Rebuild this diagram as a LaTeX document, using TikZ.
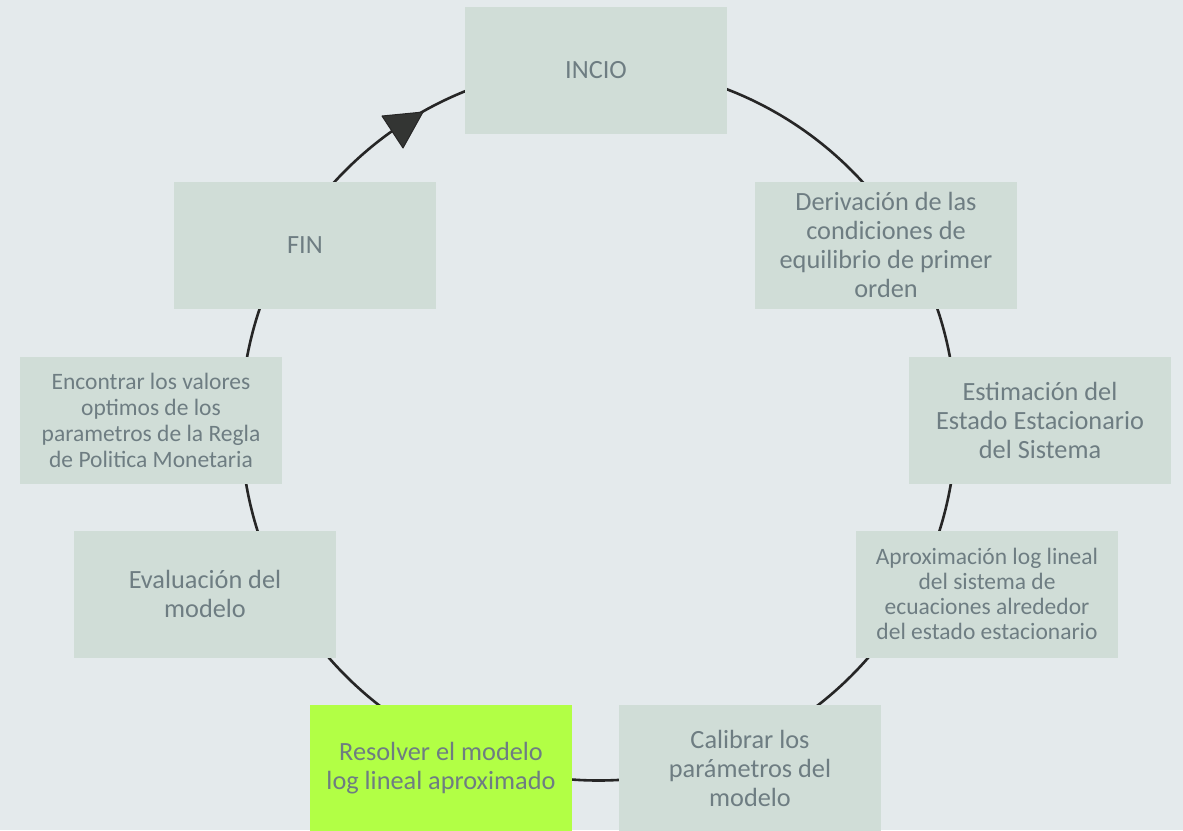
\documentclass[tikz,border=0pt]{standalone}
\usepackage{fontspec}
\setmainfont{Carlito}
\definecolor{bgc}{HTML}{E4EAEC}
\definecolor{boxc}{HTML}{D0DDD7}
\definecolor{hot}{HTML}{B2FF45}
\definecolor{txt}{HTML}{6E7D82}
\definecolor{ring}{HTML}{262626}
\definecolor{tip}{HTML}{333533}
\tikzset{
  stepbox/.style={rectangle, fill=boxc, minimum width=262pt, minimum height=127pt,
    inner sep=0pt, align=center, text=txt, font=\fontsize{26.3}{29}\selectfont},
  aproxtext/.style={font=\fontsize{23.5}{25}\selectfont},
  optimtext/.style={font=\fontsize{23.5}{26}\selectfont},
  ringline/.style={draw=ring, line width=2.6pt},
}
\begin{document}
\begin{tikzpicture}[x=1pt, y=-1pt]
  \fill[bgc] (0,0) rectangle (1183,830);
  \useasboundingbox (0,0) rectangle (1183,830);

  % cycle ring behind the steps
  \coordinate (centre) at (598.5,423);
  \draw[ringline] (centre) circle (357.5pt);

  % steps
  \node[stepbox] (inicio) at (596,70.5) {INCIO};
  \node[stepbox] (deriv) at (886,245) {Derivación de las\\condiciones de\\equilibrio de primer\\orden};
  \node[stepbox] (estim) at (1040,420) {Estimación del\\Estado Estacionario\\del Sistema};
  \node[stepbox, aproxtext] (aprox) at (987,594) {Aproximación log lineal\\del sistema de\\ecuaciones alrededor\\del estado estacionario};
  \node[stepbox] (calib) at (750,768) {Calibrar los\\parámetros del\\modelo};
  \node[stepbox, fill=hot] (resolver) at (441,768) {Resolver el modelo\\log lineal aproximado};
  \node[stepbox] (evalu) at (205,594) {Evaluación del\\modelo};
  \node[stepbox, optimtext] (optim) at (151,420) {Encontrar los valores\\optimos de los\\parametros de la Regla\\de Politica Monetaria};
  \node[stepbox] (fin) at (305,245) {FIN};

  % arrow head on the ring between FIN and INCIO
  \filldraw[fill=tip, draw=ring, line width=1pt, line join=round]
    (382,116) -- (423,112) -- (403,148) -- cycle;
\end{tikzpicture}
\end{document}
